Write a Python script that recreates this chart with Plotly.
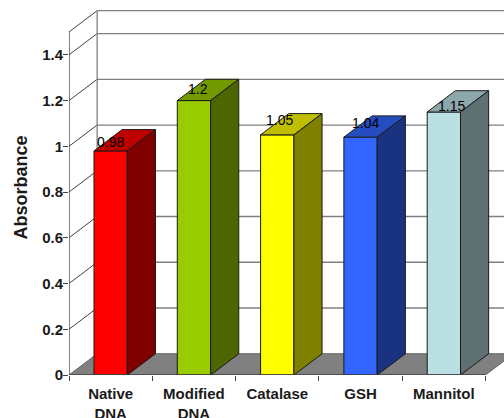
import plotly.graph_objects as go

categories = ["Native<br>DNA", "Modified<br>DNA", "Catalase", "GSH", "Mannitol"]
values = [0.98, 1.2, 1.05, 1.04, 1.15]
labels = ["0.98", "1.2", "1.05", "1.04", "1.15"]
y_ticks = [0, 0.2, 0.4, 0.6, 0.8, 1, 1.2, 1.4]
y_tick_labels = ["0", "0.2", "0.4", "0.6", "0.8", "1", "1.2", "1.4"]
front_colors = ["#FF0000", "#99CC00", "#FFFF00", "#3366FF", "#BBE0E3"]
top_colors = ["#BF0000", "#739900", "#BFBF00", "#264DBF", "#8CA8AA"]
side_colors = ["#800000", "#4D6600", "#808000", "#1A3380", "#5E7072"]
label_xshift = [0, 4, 2, 5, 8]
label_yshift = [-1, 2, 5, 4, -4]

BAR_W = 0.4
DX = 0.338
DY = 0.093
Y_TOP = 1.5
N = len(categories)
AXIS = "#404040"
GRID = "#808080"
EDGE = "#1a1a1a"
FONT = "Liberation Sans, Arial"

shapes = []
# floor
shapes.append(dict(type="path", layer="below", xref="x", yref="y",
                   path=f"M0,0 L{N},0 L{N+DX},{DY} L{DX},{DY} Z",
                   fillcolor="#808080", line=dict(color="#666666", width=1)))
fig = go.Figure()

# gridlines on the left and back walls (below the bars)
for v in y_ticks[1:] + [Y_TOP]:
    shapes.append(dict(type="line", layer="below", xref="x", yref="y",
                       x0=DX, x1=N + DX, y0=v + DY, y1=v + DY,
                       line=dict(color=GRID, width=1.3)))
    shapes.append(dict(type="line", layer="below", xref="x", yref="y",
                       x0=0, x1=DX, y0=v, y1=v + DY,
                       line=dict(color=AXIS, width=1)))
shapes.append(dict(type="line", layer="below", xref="x", yref="y",
                   x0=DX, x1=DX, y0=DY, y1=Y_TOP + DY,
                   line=dict(color=GRID, width=1.3)))

xs = [i + 0.5 for i in range(N)]

fig.add_trace(go.Bar(x=xs, y=values, width=BAR_W, cliponaxis=False,
                     marker=dict(color=front_colors, line=dict(color=EDGE, width=1)),
                     hoverinfo="skip", showlegend=False))

for x, v, tc, sc in zip(xs, values, top_colors, side_colors):
    l, r = x - BAR_W / 2, x + BAR_W / 2
    fig.add_trace(go.Scatter(x=[l, r, r + DX, l + DX, l], y=[v, v, v + DY, v + DY, v],
                             mode="lines", fill="toself", fillcolor=tc,
                             line=dict(color=EDGE, width=1), hoverinfo="skip", showlegend=False))
    fig.add_trace(go.Scatter(x=[r, r + DX, r + DX, r, r], y=[0, DY, v + DY, v, 0],
                             mode="lines", fill="toself", fillcolor=sc,
                             line=dict(color=EDGE, width=1), hoverinfo="skip", showlegend=False))

# axis lines
fig.add_trace(go.Scatter(x=[0, 0], y=[0, Y_TOP], mode="lines", cliponaxis=False,
                         line=dict(color=AXIS, width=1.3), hoverinfo="skip", showlegend=False))
fig.add_trace(go.Scatter(x=[0, N], y=[0, 0], mode="lines", cliponaxis=False,
                         line=dict(color=AXIS, width=1.3), hoverinfo="skip", showlegend=False))

annotations = [
    dict(x=x, y=v, text=t, showarrow=False, xref="x", yref="y", yanchor="bottom",
         xshift=xs_, yshift=ys_, font=dict(family=FONT, size=14, color="#000000"))
    for x, v, t, xs_, ys_ in zip(xs, values, labels, label_xshift, label_yshift)
]

fig.update_layout(
    width=504, height=418, autosize=False,
    margin=dict(l=69, r=0, t=0, b=42.5),
    paper_bgcolor="white", plot_bgcolor="white",
    shapes=shapes, annotations=annotations, showlegend=False,
    font=dict(family=FONT, color="#1a1a1a"),
    xaxis=dict(range=[0, 435 / 83.3], tickmode="array", tickvals=xs, ticktext=categories,
               ticks="", showgrid=False, zeroline=False, showline=False, ticklabelstandoff=8,
               automargin=False,
               tickfont=dict(size=15, family=FONT, weight="bold"),
               minor=dict(tickvals=list(range(N + 1)), ticks="outside", ticklen=5,
                          tickcolor=AXIS, tickwidth=1.3, showgrid=False)),
    yaxis=dict(range=[0, 375.5 / 229], tickmode="array", tickvals=y_ticks, ticktext=y_tick_labels,
               ticks="outside", ticklen=5, tickcolor=AXIS, tickwidth=1.3,
               showgrid=False, zeroline=False, showline=False, ticklabelstandoff=-3,
               automargin=False,
               tickfont=dict(size=15, family=FONT, weight="bold"),
               title=dict(text="Absorbance", standoff=9,
                          font=dict(size=18, family=FONT, weight="bold"))),
)

fig.write_html("out.html", config=dict(displayModeBar=False),
               post_script="document.body.style.margin='0';document.body.style.overflow='hidden';")
